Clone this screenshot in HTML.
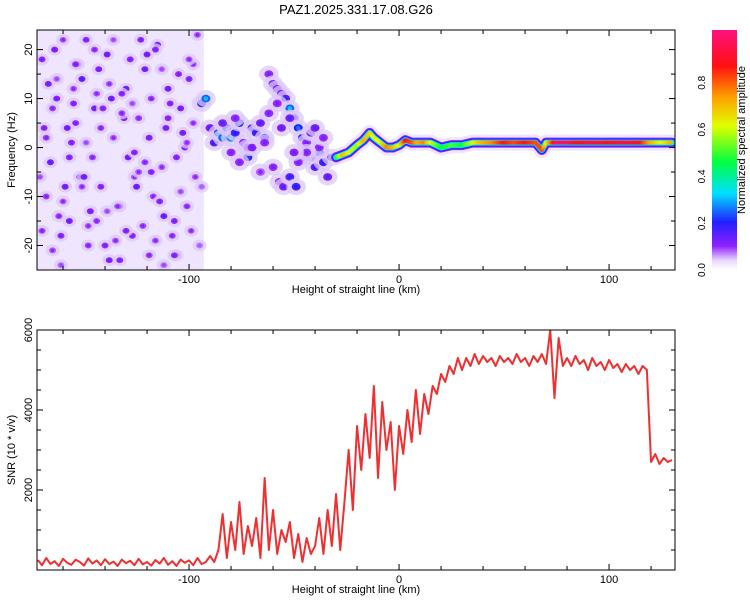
<!DOCTYPE html>
<html><head><meta charset="utf-8"><style>
body{margin:0;background:#fff;}
svg{display:block;font-family:"Liberation Sans",sans-serif;}
</style></head><body>
<svg id="chart" width="750" height="600" viewBox="0 0 750 600">
<defs>
<linearGradient id="cbg" x1="0" y1="1" x2="0" y2="0">
<stop offset="0" stop-color="#ffffff"/><stop offset="0.04" stop-color="#e8d8ff"/><stop offset="0.1" stop-color="#9020ff"/>
<stop offset="0.2" stop-color="#2020ff"/><stop offset="0.32" stop-color="#00e0ff"/><stop offset="0.45" stop-color="#00ff40"/>
<stop offset="0.6" stop-color="#e0ff00"/><stop offset="0.72" stop-color="#ffa000"/><stop offset="0.85" stop-color="#ff1010"/>
<stop offset="1" stop-color="#ff1080"/></linearGradient>
<clipPath id="clipTop"><rect x="37" y="30" width="638" height="240"/></clipPath>
<clipPath id="clipBot"><rect x="37" y="330" width="638" height="240"/></clipPath>
</defs>
<text x="356" y="14" font-size="13" text-anchor="middle">PAZ1.2025.331.17.08.G26</text>
<g id="topPanel"></g>
<g id="botPanel"></g>
<g id="cbar"></g>
</svg>
<script>
// ---- data ----
const xDomain=[-172.4,131.4];
const fDomain=[-25,24];
const snrDomain=[0,6000];
const xTicks=[-100,0,100];
const fTicks=[-20,-10,0,10,20];
const snrTicks=[2000,4000,6000];
const cbTicks=[0.0,0.2,0.4,0.6,0.8];
const noiseRegion=[-172.4,-93];
// ridge (x km, freq Hz, amplitude)
const ridgeX=[-30,-27,-24,-20,-17,-14,-12,-9,-6,-3,0,3,6,9,12,15,20,25,30,35,40,45,50,55,60,65,68,70,75,80,85,90,95,100,105,110,115,120,125,130];
const ridgeF=[-2,-1.5,-1,0.5,1.5,3,2,1,0,0,0.5,1.5,1,1,1,1,0,0.5,0.5,1,1,1,1,1,1,1,-0.5,1,1,1,1,1,1,1,1,1,1,1,1,1];
const ridgeA=[0.45,0.7,0.6,0.55,0.7,0.65,0.6,0.6,0.75,0.7,0.6,0.85,0.8,0.7,0.75,0.6,0.45,0.5,0.45,0.6,0.7,0.75,0.85,0.8,0.85,0.8,0.8,0.6,0.95,0.95,0.85,0.9,0.9,0.85,0.9,0.9,0.85,0.7,0.6,0.7];
// blobs in the transition zone
const clusterX=[-94,-92,-90,-88,-86,-84,-82,-80,-78,-76,-74,-72,-70,-68,-66,-64,-62,-60,-58,-56,-54,-52,-50,-48,-46,-44,-42,-40,-38,-36,-34,-32,-60,-57,-55,-52,-49,-46,-44,-42,-38,-62,-58,-52,-48,-44,-40,-36,-80,-76,-72,-66,-84,-78,-70,-64,-56,-50];
const clusterF=[9,10,4,1,3,2,4,2,3,5,1,-2,4,3,5,2,15,13,12,11,10,8,6,4,2,0,-2,-4,-1,-3,-6,-2,-4,-7,-8,-6,-8,-2,1,3,0,7,9,6,-3,-1,4,2,-1,-3,0,-5,5,6,0,1,4,-1];
const clusterA=[0.22,0.3,0.15,0.18,0.28,0.3,0.25,0.32,0.2,0.25,0.15,0.22,0.18,0.2,0.15,0.2,0.12,0.15,0.15,0.15,0.18,0.3,0.2,0.25,0.22,0.28,0.2,0.18,0.25,0.2,0.15,0.18,0.12,0.12,0.15,0.18,0.2,0.15,0.12,0.15,0.12,0.12,0.12,0.15,0.12,0.12,0.15,0.12,0.12,0.12,0.12,0.1,0.14,0.12,0.13,0.12,0.14,0.13];
// scattered noise blobs on the left
const noiseX=[-170,-166,-163,-160,-157,-154,-151,-148,-145,-142,-139,-136,-133,-130,-127,-124,-121,-118,-115,-112,-109,-106,-103,-100,-97,-168,-164,-161,-158,-155,-152,-149,-146,-143,-140,-137,-134,-131,-128,-125,-122,-119,-116,-113,-110,-107,-104,-101,-98,-169,-165,-159,-153,-147,-141,-135,-129,-123,-117,-111,-105,-99,-167,-162,-156,-150,-144,-138,-132,-126,-120,-114,-108,-102,-96,
-171,-165,-160,-154,-149,-144,-138,-133,-127,-121,-116,-110,-104,-98,-170,-163,-157,-151,-145,-139,-132,-126,-119,-113,-107,-101,-95,-168,-161,-155,-148,-142,-136,-130,-124,-118,-112,-106,-100,-94];
const noiseF=[18,-3,10,22,-15,5,14,-20,8,-8,19,2,-12,12,-18,6,16,-5,21,-14,9,-22,3,14,-6,-10,20,-18,4,12,-6,22,-2,16,-20,10,-12,6,18,-8,-16,2,20,-4,12,-22,8,-12,5,4,-21,-8,17,-13,8,-19,-2,22,-10,4,15,-17,13,-14,1,-6,11,-23,7,-1,19,-11,-18,0,23,
-6,8,-11,17,1,-15,13,-23,9,-3,-19,6,-9,17,-17,14,-2,-8,20,-13,11,-6,-22,16,-15,1,-20,2,-24,9,-16,4,22,-17,-5,10,-24,-2,18,-8];
const noiseA=[0.12,0.15,0.13,0.1,0.14,0.12,0.16,0.11,0.13,0.12,0.14,0.1,0.13,0.15,0.12,0.11,0.14,0.12,0.13,0.15,0.12,0.1,0.13,0.12,0.1,0.11,0.13,0.12,0.14,0.1,0.15,0.12,0.11,0.13,0.12,0.14,0.1,0.13,0.12,0.15,0.11,0.13,0.12,0.1,0.14,0.12,0.13,0.11,0.1,0.12,0.1,0.14,0.11,0.13,0.12,0.1,0.14,0.12,0.11,0.13,0.12,0.1,0.13,0.11,0.12,0.14,0.1,0.13,0.11,0.12,0.14,0.12,0.11,0.13,0.1,
0.09,0.11,0.1,0.12,0.09,0.11,0.1,0.12,0.09,0.11,0.1,0.12,0.09,0.1,0.11,0.09,0.12,0.1,0.11,0.09,0.12,0.1,0.11,0.09,0.12,0.1,0.08,0.11,0.09,0.12,0.1,0.11,0.09,0.12,0.1,0.11,0.09,0.12,0.1,0.08];
// SNR series, x = -172 + 2*i km
const snrStart=-172, snrStep=2;
const snrValues=[250,120,300,150,220,100,280,180,130,260,200,110,290,160,240,120,270,150,210,100,260,170,230,120,280,140,200,110,250,160,300,130,220,100,260,180,240,120,300,150,200,
350,200,500,
1400,300,1200,500,1700,400,1100,600,1300,300,2300,500,1500,400,1000,700,1200,300,900,200,800,400,600,
1300,400,1500,600,1900,500,1700,
3000,1500,3600,2500,3900,2800,4600,2300,4200,3000,3700,2000,
3600,2900,4000,3200,4500,3400,4400,3900,
4600,4400,4900,4700,5100,4900,5300,5000,
5300,5100,5400,5150,5350,5200,5300,5100,5350,5200,5300,5150,5400,5200,5300,5100,5350,5200,5400,5150,
6000,4300,5800,5100,
5300,5100,5350,5150,5250,5000,5300,5100,5200,5000,5250,5050,5150,4950,5150,5000,5100,4900,5100,5000,
2700,2900,2650,2800,2700,2750];
// ---- rendering ----
const NS='http://www.w3.org/2000/svg';
function mk(tag,attrs,parent,txt){const e=document.createElementNS(NS,tag);for(const k in attrs)e.setAttribute(k,attrs[k]);if(txt!==undefined)e.textContent=txt;parent.appendChild(e);return e;}
const X0=37,X1=675;
const xs=v=>X0+(v-xDomain[0])/(xDomain[1]-xDomain[0])*(X1-X0);
const T0=30,T1=270,B0=330,B1=570;
const fs=v=>T1-(v-fDomain[0])/(fDomain[1]-fDomain[0])*(T1-T0);
const ss=v=>B1-(v-snrDomain[0])/(snrDomain[1]-snrDomain[0])*(B1-B0);
const stops=[[0,[255,255,255]],[0.04,[232,216,255]],[0.1,[144,32,255]],[0.2,[32,32,255]],[0.32,[0,224,255]],[0.45,[0,255,64]],[0.6,[224,255,0]],[0.72,[255,160,0]],[0.85,[255,16,16]],[1,[255,16,128]]];
function cmap(a){for(let i=1;i<stops.length;i++){if(a<=stops[i][0]){const p0=stops[i-1][0],c0=stops[i-1][1],p1=stops[i][0],c1=stops[i][1];const t=(a-p0)/(p1-p0);return 'rgb('+c0.map((c,j)=>Math.round(c+(c1[j]-c)*t)).join(',')+')';}}return 'rgb(255,16,128)';}

function axes(g,y0,y1,yscale,yticks,yminorStep,ymin,ymax,ytitle,name){
  const fr=mk('rect',{x:X0,y:y0,width:X1-X0,height:y1-y0,fill:'none',stroke:'#000','stroke-width':1},g);
  
  
  for(let v=-160;v<=130;v+=20){const x=xs(v);const big=xTicks.includes(v);const L=big?6:4;
    mk('line',{x1:x,y1:y1,x2:x,y2:y1-L,stroke:'#000'},g);mk('line',{x1:x,y1:y0,x2:x,y2:y0+L,stroke:'#000'},g);}
  xTicks.forEach(v=>{const t=mk('text',{x:xs(v),y:y1+13,'font-size':11,'text-anchor':'middle'},g,String(v));
    
    });
  const xt=mk('text',{x:356,y:y1+23,'font-size':11,'text-anchor':'middle'},g,'Height of straight line (km)');
  
  
  for(let v=Math.ceil(ymin/yminorStep)*yminorStep;v<=ymax;v+=yminorStep){const y=yscale(v);const big=yticks.includes(v);const L=big?6:4;
    mk('line',{x1:X0,y1:y,x2:X0+L,y2:y,stroke:'#000'},g);mk('line',{x1:X1,y1:y,x2:X1-L,y2:y,stroke:'#000'},g);}
  yticks.forEach(v=>{const y=yscale(v);const t=mk('text',{x:0,y:0,'font-size':11,'text-anchor':'middle',transform:'translate('+(X0-5)+','+y+') rotate(-90)'},g,String(v));
    
    });
  const yt=mk('text',{x:0,y:0,'font-size':11,'text-anchor':'middle',transform:'translate(15,'+((y0+y1)/2)+') rotate(-90)'},g,ytitle);
  
  
}

// top panel
const topG=document.getElementById('topPanel');
const tg=mk('g',{'clip-path':'url(#clipTop)'},topG);
const nr=mk('rect',{x:xs(noiseRegion[0]),y:T0,width:xs(noiseRegion[1])-xs(noiseRegion[0]),height:T1-T0,fill:'#efe5ff'},tg);


function blob(g,x,f,a,r,halo){
  const cx=xs(x),cy=fs(f);
  mk('ellipse',{cx:cx,cy:cy,rx:r*halo,ry:r*halo*0.85,fill:'#dcc8ff',opacity:0.75},g);
  mk('ellipse',{cx:cx,cy:cy,rx:r,ry:r*0.85,fill:cmap(Math.max(0.07,a*0.8))},g);
  mk('circle',{cx:cx,cy:cy,r:r*0.5,fill:cmap(a)},g);
}
noiseX.forEach((x,i)=>{if(noiseF[i]===undefined||noiseA[i]===undefined)return;const e=mk('g',{},tg);
  
  
  blob(e,x,noiseF[i],noiseA[i],3.5,2);});
clusterX.forEach((x,i)=>{if(clusterF[i]===undefined||clusterA[i]===undefined)return;const e=mk('g',{},tg);
  
  
  blob(e,x,clusterF[i],clusterA[i],4.5,2.2);});
// ridge layers
const rg=mk('g',{},tg);


const pts=ridgeX.map((x,i)=>xs(x)+','+fs(ridgeF[i])).join(' ');
[[16,0.04,0.7],[10,0.1,1],[8,0.2,1],[6,0.32,1]].forEach(p=>mk('polyline',{points:pts,fill:'none',stroke:cmap(p[1]),'stroke-width':p[0],'stroke-linejoin':'round','stroke-linecap':'round',opacity:p[2]},rg));
for(let i=0;i<ridgeX.length-1;i++){const n=Math.max(2,Math.round(xs(ridgeX[i+1])-xs(ridgeX[i])));
  for(let k=0;k<n;k++){const t=k/n;const x=ridgeX[i]+(ridgeX[i+1]-ridgeX[i])*t,f=ridgeF[i]+(ridgeF[i+1]-ridgeF[i])*t,a=ridgeA[i]+(ridgeA[i+1]-ridgeA[i])*t;
    mk('circle',{cx:xs(x),cy:fs(f),r:2,fill:cmap(a)},rg);}}
axes(topG,T0,T1,fs,fTicks,5,-25,24,'Frequency (Hz)','spectrogram');

// bottom panel
const botG=document.getElementById('botPanel');
const bg=mk('g',{'clip-path':'url(#clipBot)'},botG);
const sp=snrValues.map((v,i)=>xs(snrStart+i*snrStep)+','+ss(v)).join(' ');
const line=mk('polyline',{points:sp,fill:'none',stroke:'#f03030','stroke-width':2,'stroke-linejoin':'round'},bg);


axes(botG,B0,B1,ss,snrTicks,500,500,6000,'SNR (10 * v/v)','snr');

// colorbar
const cb=document.getElementById('cbar');
const cr=mk('rect',{x:712,y:30,width:25,height:240,fill:'url(#cbg)'},cb);


cbTicks.forEach(v=>{const y=270-v*234;const t=mk('text',{x:0,y:0,'font-size':10,'text-anchor':'middle',transform:'translate(705,'+y+') rotate(-90)'},cb,v.toFixed(1));
  
  });
const ct=mk('text',{x:0,y:0,'font-size':11,'text-anchor':'middle',transform:'translate(745,140) rotate(-90)'},cb,'Normalized spectral amplitude');


</script>
</body></html>
